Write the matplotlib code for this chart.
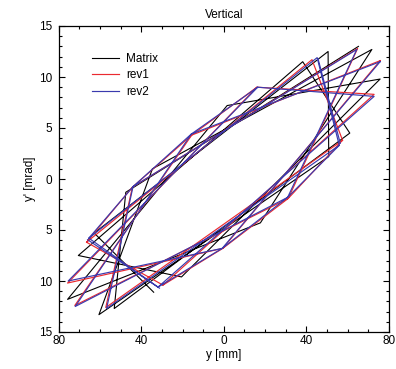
import numpy as np
import matplotlib
matplotlib.use("Agg")
import matplotlib.pyplot as plt
from matplotlib.ticker import MultipleLocator, FuncFormatter

plt.rcParams["font.family"] = ["Liberation Sans", "DejaVu Sans"]
plt.rcParams["font.size"] = 8.5

# phase-space vertices (y [mm], y' [mrad]), in path order
matrix_y = [65.2, -47.5, -53.1, 61.0, 38.2, -70.5, -20.5, 75.7, 1.6,
            -75.7, 17.7, 71.7, -34.6, -60.5, 50.8, 50.5, -62.8, -34.0]
matrix_yp = [13.0, -1.3, -12.7, 4.5, 11.5, -7.5, -9.6, 9.8, 7.2,
             -11.8, -4.3, 12.7, 1.0, -13.3, 2.2, 12.5, -5.3, -11.1]

# closed star path + the two kinked flank pieces (nan = pen up)
rev1_y = [75.7, -15.6, -72.2, 31.2, 64.8, -44.3, -57.2, 57.5, 42.7, -66.5,
          -29.5, 72.8, 16.0, -75.7, -0.5, 75.7,
          np.nan, -66.5, -44.3, -15.6, 16.0,
          np.nan, -29.5, -0.5, 31.2, 57.5]
rev1_yp = [11.6, 4.3, -12.4, -1.9, 12.8, -0.8, -12.6, 3.8, 11.7, -6.2,
           -10.4, 8.3, 9.0, -10.2, -6.8, 11.6,
           np.nan, -6.2, -0.8, 4.3, 9.0,
           np.nan, -10.4, -6.8, -1.9, 3.8]

rev2_y = [75.7, -15.8, -72.0, 30.9, 64.4, -44.0, -56.8, 55.9, 45.2, -65.4,
          -31.9, 72.8, 16.4, -75.4, -0.8, 75.7,
          np.nan, -65.4, -44.0, -15.8, 16.4,
          np.nan, -31.9, -0.8, 30.9, 55.9,
          np.nan, 56.4, 45.6,
          np.nan, -66.0, -31.2]
rev2_yp = [11.5, 4.4, -12.5, -1.8, 12.7, -0.75, -12.7, 3.3, 11.9, -5.8,
           -10.6, 8.1, 9.0, -10.0, -6.8, 11.5,
           np.nan, -5.8, -0.75, 4.4, 9.0,
           np.nan, -10.6, -6.8, -1.8, 3.3,
           np.nan, 3.5, 11.8,
           np.nan, -5.95, -10.7]

fig = plt.figure(figsize=(3.96, 3.69), dpi=100)
ax = fig.add_axes([58.7 / 396, 37 / 369, 330.3 / 396, 306 / 369])

ax.plot(matrix_y, matrix_yp, color="black", lw=0.8, label="Matrix")
ax.plot(rev1_y, rev1_yp, color="#ea2a30", lw=0.85, label="rev1")
ax.plot(rev2_y, rev2_yp, color="#3a3aae", lw=0.85, label="rev2")

ax.set_xlim(-80, 80)
ax.set_ylim(-15, 15)
ax.xaxis.set_major_locator(MultipleLocator(40))
ax.xaxis.set_minor_locator(MultipleLocator(10))
ax.yaxis.set_major_locator(MultipleLocator(5))
ax.yaxis.set_minor_locator(MultipleLocator(1))
absfmt = FuncFormatter(lambda v, pos: f"{abs(v):g}")
ax.xaxis.set_major_formatter(absfmt)
ax.yaxis.set_major_formatter(absfmt)
ax.tick_params(which="both", direction="in", top=True, right=True, width=0.8)
ax.tick_params(which="major", length=4)
ax.tick_params(which="minor", length=2)
ax.tick_params(axis="x", pad=2.5)
ax.tick_params(axis="y", pad=4.5)
for s in ax.spines.values():
    s.set_linewidth(0.9)

ax.set_xlabel("y [mm]", labelpad=1)
ax.set_ylabel("y' [mrad]", labelpad=2)
ax.set_title("Vertical", fontsize=8.5, pad=6)

ax.legend(loc="upper left", bbox_to_anchor=(0.10, 0.912), frameon=False,
          borderaxespad=0, borderpad=0, handlelength=2.3, handletextpad=0.6,
          labelspacing=0.38)

fig.savefig("out.png", dpi=100)
